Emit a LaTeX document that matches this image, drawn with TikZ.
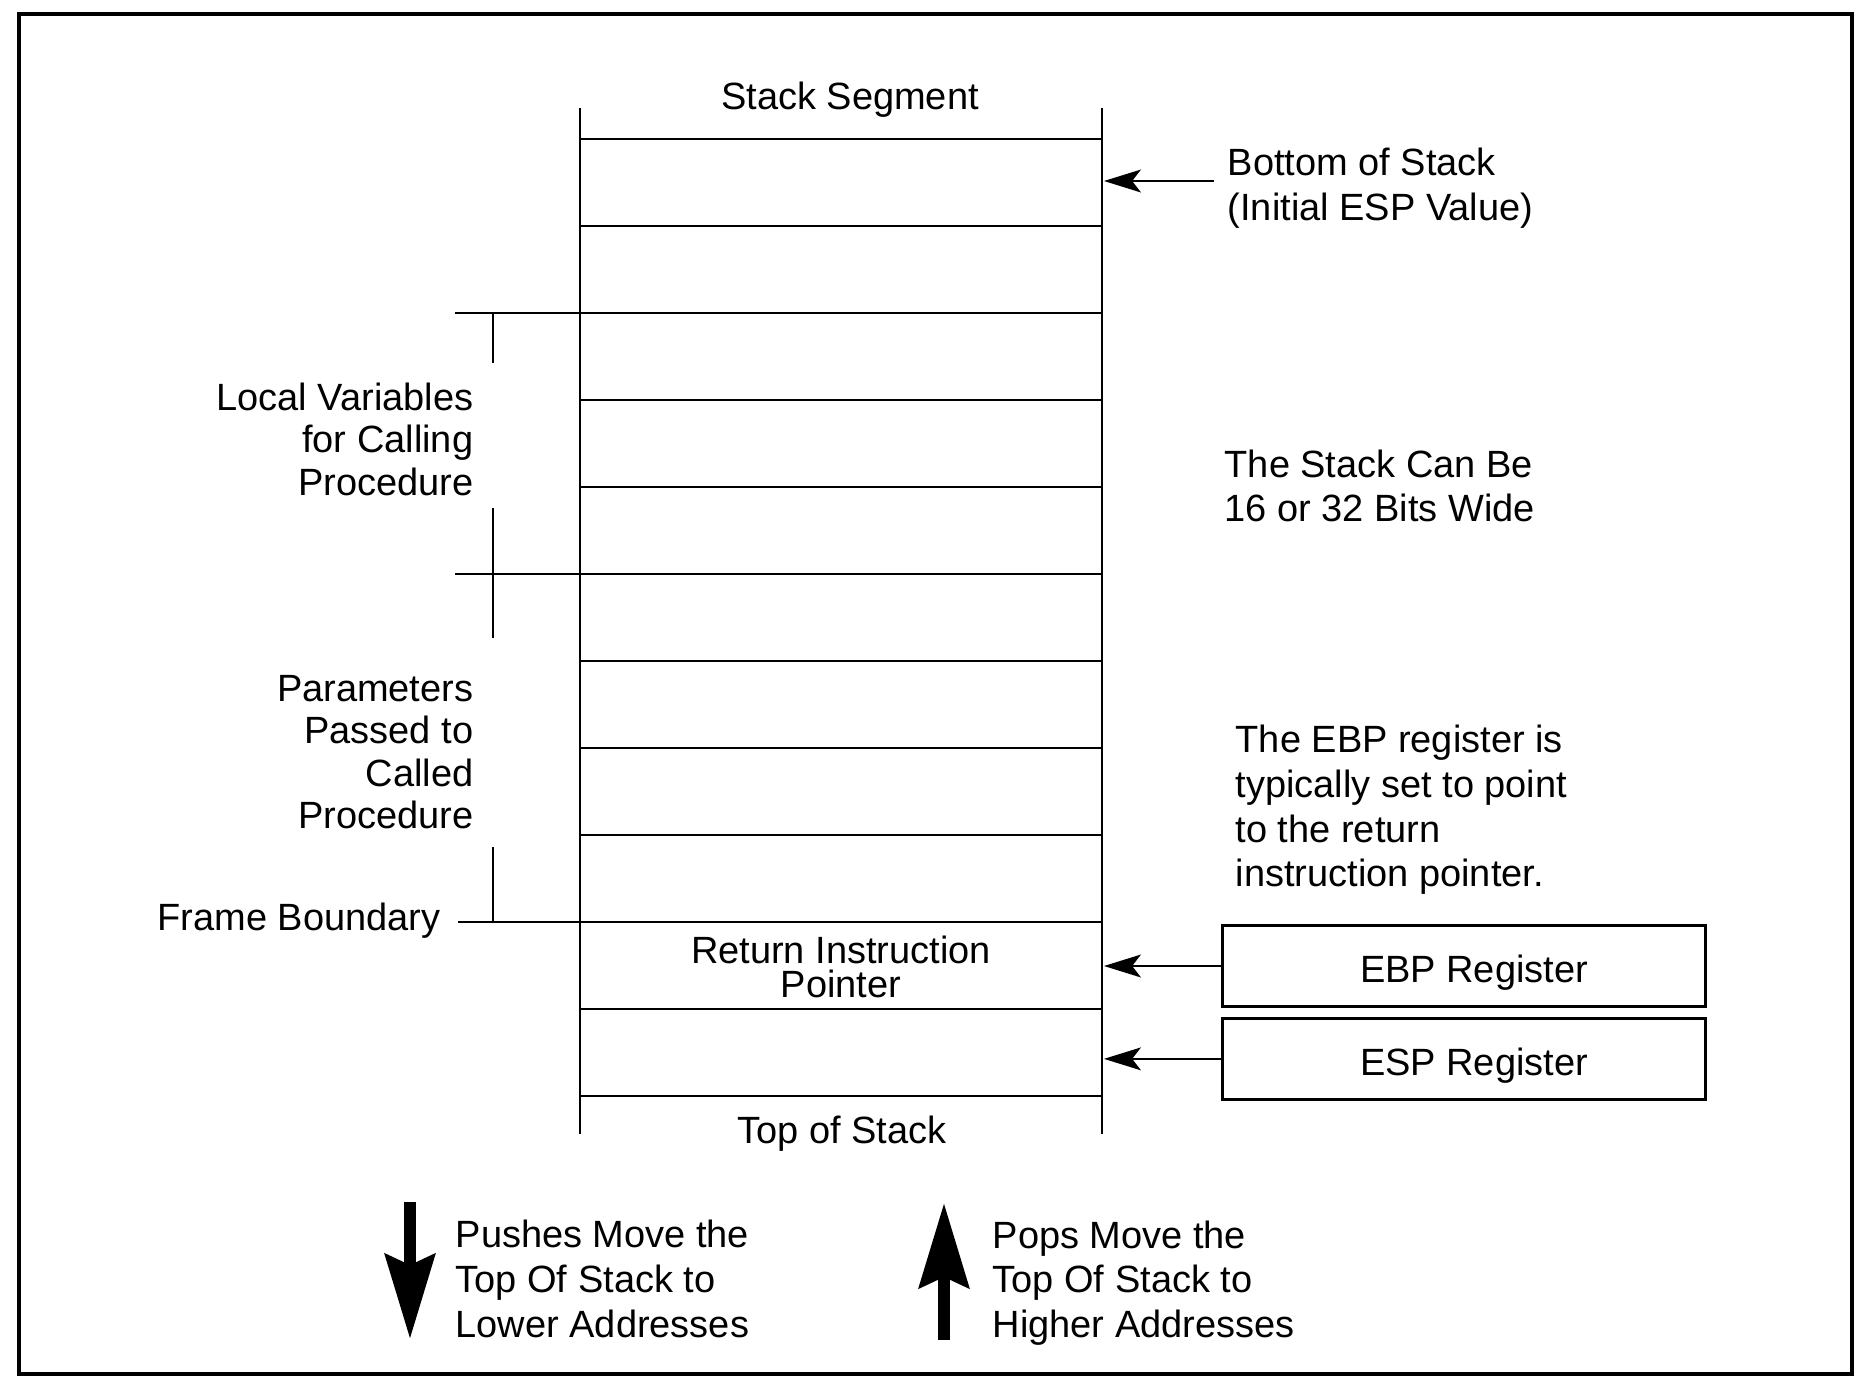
\documentclass[tikz,border=0pt]{standalone}
\usepackage{fontspec}
\setmainfont{Liberation Sans}
\usetikzlibrary{arrows.meta,positioning}
\begin{document}
\begin{tikzpicture}[x=0.01cm,y=-0.01cm,
    every node/.style={font=\fontsize{10.8}{12.7}\selectfont, inner sep=0pt},
    stackline/.style={line width=0.6pt},
    ptr/.style={line width=0.6pt,-{Stealth[length=10.5pt,width=6.5pt,inset=2.5pt]}},
    reg/.style={draw,line width=0.8pt,minimum width=4.83cm,minimum height=0.81cm,
        text height=9.2pt,text depth=0pt,execute at begin node={\hspace*{0.2cm}}},
    bigarrow/.style={line width=3.6pt,-{Stealth[length=24pt,width=14pt,inset=3pt]}}]
\useasboundingbox (0,0) rectangle (1862,1390);
\draw[line width=0.9pt] (19,14) rectangle (1852,1374);

% the stack
\draw[stackline] (580,108) -- (580,1134);
\draw[stackline] (1102,108) -- (1102,1134);
\foreach \k in {0,...,11}
    \draw[stackline] (580,{139+87*\k}) -- (1102,{139+87*\k});
\draw[stackline] (455,313) -- (580,313);
\draw[stackline] (455,574) -- (580,574);
\draw[stackline] (458,922) -- (580,922);
\draw[stackline] (493,313) -- (493,363);
\draw[stackline] (493,508) -- (493,638);
\draw[stackline] (493,847) -- (493,922);

\node (seg) at (850,100) {Stack Segment};
\node (rip) [align=center] at (841,967) {Return Instruction\\[-2.9pt]Pointer};
\node (tos) at (842,1134) {Top of Stack};

% left labels
\node (locals) [anchor=east, align=right] at (474,439) {Local Variables\\[-0.6pt]for Calling\\[-0.6pt]Procedure};
\node (params) [anchor=east, align=right] at (474,752) {Parameters\\[-0.6pt]Passed to\\[-0.6pt]Called\\[-0.6pt]Procedure};
\node (frame) [anchor=east] at (441,921) {Frame Boundary};

% right side
\node (bos) [anchor=west, align=left] at (1227,188) {Bottom of Stack\\(Initial ESP Value)};
\coordinate (bosslot) at (1104,181);
\draw[ptr] (bos.west |- bosslot) ++(-13,0) -- (bosslot);

\node (wide) [anchor=west, align=left] at (1224,486) {The Stack Can Be\\16 or 32 Bits Wide};
\node (note) [anchor=west, align=left] at (1235,810) {The EBP register is\\typically set to point\\to the return\\instruction pointer.};

\node (ebp) [reg] at (1464,966) {EBP Register};
\node (esp) [reg, below=0.09cm of ebp] {ESP Register};
\draw[ptr] (ebp.west) -- (ebp.west -| bosslot);
\draw[ptr] (esp.west) -- (esp.west -| bosslot);

% push / pop
\coordinate (pushtop) at (410,1202);
\coordinate (pushtip) at (410,1339);
\draw[bigarrow] (pushtop) -- (pushtip);
\node (push) [anchor=west, align=left] at (455,1279) {Pushes Move the\\Top Of Stack to\\Lower Addresses};
\coordinate (popbot) at (944,1340);
\coordinate (poptip) at (944,1203);
\draw[bigarrow] (popbot) -- (poptip);
\node (pop) [anchor=west, align=left] at (992,1283) {Pops Move the\\Top Of Stack to\\Higher Addresses};
\end{tikzpicture}
\end{document}
